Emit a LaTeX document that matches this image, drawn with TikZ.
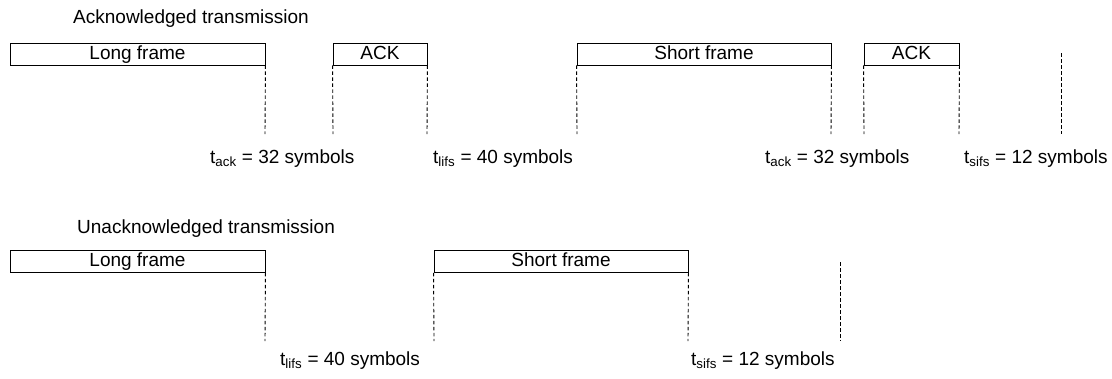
\documentclass[tikz,border=0pt]{standalone}
\usepackage{fontspec}
\setmainfont{Liberation Sans}
\begin{document}
\begin{tikzpicture}[x=1pt,y=-1pt,
  frame/.style={draw, line width=0.9pt, inner sep=0pt, minimum height=22pt, text height=13.5pt, text depth=3.5pt, anchor=center, font=\fontsize{19}{22}\selectfont},
  guide/.style={draw, line width=0.9pt, dash pattern=on 3.5pt off 2.5pt},
  lbl/.style={anchor=base west, inner sep=0pt, font=\fontsize{19}{22}\selectfont}]
\useasboundingbox (0,0) rectangle (1112,378);
% titles
\node[lbl] (t1) at (73,23) {Acknowledged transmission};
\node[lbl] (t2) at (77,233) {Unacknowledged transmission};
% acknowledged row
\node[frame, minimum width=255pt] (lf1) at (137.5,54) {Long frame};
\node[frame, minimum width=94pt] (ack1) at (380,54) {ACK};
\node[frame, minimum width=254pt] (sf1) at (704,54) {Short frame};
\node[frame, minimum width=95pt] (ack2) at (911.5,54) {ACK};
\coordinate (a1) at (265,134);
\coordinate (a2) at (333,134);
\coordinate (a3) at (427,134);
\coordinate (a4) at (577,134);
\coordinate (a5) at (831,134);
\coordinate (a6) at (864,134);
\coordinate (a7) at (959,134);
\coordinate (a8t) at (1061,53);
\coordinate (a8) at (1061,134);
\path[guide] (lf1.south east) -- (a1);
\path[guide] (ack1.south west) -- (a2);
\path[guide] (ack1.south east) -- (a3);
\path[guide] (sf1.south west) -- (a4);
\path[guide] (sf1.south east) -- (a5);
\path[guide] (ack2.south west) -- (a6);
\path[guide] (ack2.south east) -- (a7);
\path[guide] (a8t) -- (a8);
\node[lbl] (l1) at (210,163) {t\textsubscript{ack} = 32 symbols};
\node[lbl] (l2) at (433,163) {t\textsubscript{lifs} = 40 symbols};
\node[lbl] (l3) at (765,163) {t\textsubscript{ack} = 32 symbols};
\node[lbl] (l4) at (964,163) {t\textsubscript{sifs} = 12 symbols};
% unacknowledged row
\node[frame, minimum width=255pt] (lf2) at (137.5,261.5) {Long frame};
\node[frame, minimum width=254pt] (sf2) at (561,261.5) {Short frame};
\coordinate (b1) at (265,341);
\coordinate (b2) at (434,341);
\coordinate (b3) at (688,341);
\coordinate (b4t) at (840,262);
\coordinate (b4) at (840,341);
\path[guide] (lf2.south east) -- (b1);
\path[guide] (sf2.south west) -- (b2);
\path[guide] (sf2.south east) -- (b3);
\path[guide] (b4t) -- (b4);
\node[lbl] (l5) at (280,365) {t\textsubscript{lifs} = 40 symbols};
\node[lbl] (l6) at (691,365) {t\textsubscript{sifs} = 12 symbols};
\end{tikzpicture}
\end{document}
